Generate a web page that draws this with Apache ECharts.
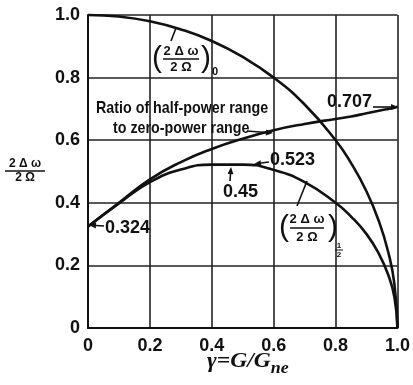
<!DOCTYPE html>
<html><head><meta charset="utf-8">
<script src="https://cdn.jsdelivr.net/npm/echarts/dist/echarts.min.js"></script>
<style>html,body{margin:0;padding:0;background:#fff}#c{width:413px;height:385px}</style>
</head><body><div id="c"></div>
<script>
// gamma = G/G_ne
const gammaValues     = [0, 0.1, 0.2, 0.3, 0.4, 0.5, 0.6, 0.7, 0.8, 0.85, 0.9, 0.94, 0.97, 0.99, 1.0];
// (2Δω/2Ω)_0  zero-power range
const zeroPowerRange  = [1.0, 0.995, 0.98, 0.954, 0.917, 0.866, 0.8, 0.714, 0.6, 0.527, 0.436, 0.341, 0.243, 0.141, 0];
// ratio of half-power range to zero-power range
const ratioValues     = [0.324, 0.40, 0.475, 0.53, 0.572, 0.605, 0.632, 0.652, 0.668, 0.676, 0.686, 0.694, 0.700, 0.704, 0.707];
// (2Δω/2Ω)_1/2  half-power range
const halfPowerRange  = [0.324, 0.398, 0.466, 0.506, 0.522, 0.522, 0.505, 0.466, 0.400, 0.356, 0.300, 0.237, 0.170, 0.099, 0];
const tickLabels = {0:'0', 0.2:'0.2', 0.4:'0.4', 0.6:'0.6', 0.8:'0.8', 1:'1.0'};

const INK = '#111';
const SANS = '"Liberation Sans", Arial, sans-serif';
const SERIF = '"Liberation Serif", "DejaVu Serif", serif';
const chart = echarts.init(document.getElementById('c'), null, {renderer:'canvas'});

function T(x, y, text, size, opt) {
  opt = opt || {};
  return {type:'text', x:x, y:y, z:20, scaleX: opt.scaleX || 1,
    style:{x:0, y:0, text:text, fill:INK, fontSize:size, fontWeight: opt.weight || 'bold',
      fontStyle: opt.style || 'normal', fontFamily: opt.family || SANS,
      align: opt.align || 'left', verticalAlign:'middle'}};
}
function L(x1,y1,x2,y2,w){ return {type:'line', z:20, shape:{x1,y1,x2,y2}, style:{stroke:INK, lineWidth:w||1.5}}; }
function arrow(x1,y1,x2,y2,head){
  head = head || 7;
  const a = Math.atan2(y2-y1, x2-x1);
  const hx = x2 - head*Math.cos(a), hy = y2 - head*Math.sin(a);
  const w = head*0.42;
  return [L(x1,y1,hx,hy,1.6),
    {type:'polygon', z:20, shape:{points:[[x2,y2],[hx - w*Math.sin(a), hy + w*Math.cos(a)],[hx + w*Math.sin(a), hy - w*Math.cos(a)]]}, style:{fill:INK}}];
}
function frac(cx, yNum, yBar, yDen, halfW, size){
  return [T(cx, yNum, '2 Δ ω', size, {align:'center'}), L(cx-halfW, yBar, cx+halfW, yBar, 1.5), T(cx, yDen, '2 Ω', size, {align:'center'})];
}
// width of the x title main part, to place the subscript right after it
const titleFont = 'italic bold 21px ' + SERIF;
const mctx = document.createElement('canvas').getContext('2d');
mctx.font = titleFont;
const titleScale = 1.12;
const titleW = mctx.measureText('γ=G/G').width * titleScale;

const graphics = [].concat(
  // y-axis title
  frac(25, 164, 171, 178, 20, 12),
  // top-curve label (2Δω/2Ω)_0
  [T(157, 59, '(', 30, {weight:'normal', align:'center'})],
  frac(181, 51, 59, 67, 18, 13),
  [T(206, 59, ')', 30, {weight:'normal', align:'center'}), T(215, 72, '0', 11, {align:'center'}), L(171,41,176,28,1.6)],
  // half-power label (2Δω/2Ω)_1/2
  [T(284, 228, '(', 30, {weight:'normal', align:'center'})],
  frac(307, 219, 228, 237, 17, 13),
  [T(333, 228, ')', 30, {weight:'normal', align:'center'}), T(339, 246, '1', 8, {align:'center'}), L(335,250,343,250,1), T(339, 255, '2', 8, {align:'center'}), L(297,206,307,181,1.6)],
  // Ratio text
  [T(96, 108, 'Ratio of half-power range', 17, {scaleX:0.84}), T(113, 128, 'to zero-power range', 17, {scaleX:0.84})],
  arrow(247, 131, 273, 133),
  // values
  [T(327, 102, '0.707', 18)], arrow(373, 107, 398, 107),
  [T(270, 160, '0.523', 18)], arrow(269, 162, 254, 164),
  [T(223, 192, '0.45', 18)], arrow(230, 181, 231, 167),
  [T(105, 228, '0.324', 18)], arrow(104, 226, 89, 225),
  // x-axis title
  [T(207, 362, 'γ=G/G', 21, {style:'italic', family:SERIF, scaleX:titleScale}),
   T(207 + titleW, 369, 'ne', 16, {style:'italic', family:SERIF, scaleX:titleScale})]
);

const axisCommon = {
  type:'value', min:0, max:1, interval:0.2,
  axisLine:{show:true, lineStyle:{color:INK, width:2}},
  axisTick:{show:false},
  splitLine:{show:true, lineStyle:{color:'#222', width:1.6}},
  axisLabel:{formatter: v => tickLabels[Math.round(v*10)/10], color:INK, fontSize:18, fontWeight:'bold', fontFamily:SANS}
};
const mk = arr => gammaValues.map((g,i)=>[g, arr[i]]);
const lineSeries = (name, arr) => ({name, type:'line', data:mk(arr), showSymbol:false, smooth:true,
  lineStyle:{color:INK, width:2.6}, clip:false, z:5});

chart.setOption({
  animation:false,
  backgroundColor:'#fff',
  grid:{left:88, right:10, top:15, bottom:57, show:false},
  xAxis: Object.assign({}, axisCommon, {axisLabel: Object.assign({}, axisCommon.axisLabel, {margin:9})}),
  yAxis: Object.assign({}, axisCommon, {axisLabel: Object.assign({}, axisCommon.axisLabel, {margin:8})}),
  series:[
    lineSeries('zero-power', zeroPowerRange),
    lineSeries('ratio', ratioValues),
    lineSeries('half-power', halfPowerRange)
  ],
  graphic: graphics
});
</script></body></html>
